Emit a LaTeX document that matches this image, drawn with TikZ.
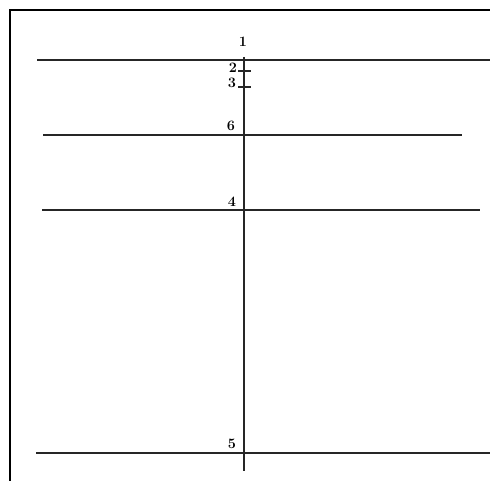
\documentclass[tikz,border=0pt]{standalone}
\begin{document}
\begin{tikzpicture}[x=1pt,y=-1pt,
  frame/.style={line width=2.6pt,black},
  hline/.style={line width=2.2pt,black!85},
  vline/.style={line width=2.2pt,black!85},
  tick/.style={line width=1.5pt,black!85},
  lab/.style={font=\Large\bfseries,inner sep=0pt}]
\useasboundingbox (0,0) rectangle (490,481);
\fill[white] (0,0) rectangle (490,481);
% frame
\draw[frame] (10,482) -- (10,10) -- (491,10);
% horizontal lines
\coordinate (a1) at (37,60);  \coordinate (b1) at (490,60);
\coordinate (a6) at (43,135); \coordinate (b6) at (462,135);
\coordinate (a4) at (42,210); \coordinate (b4) at (480,210);
\coordinate (a5) at (36,453); \coordinate (b5) at (490,453);
\draw[hline] (a1) -- (b1);
\draw[hline] (a6) -- (b6);
\draw[hline] (a4) -- (b4);
\draw[hline] (a5) -- (b5);
% vertical axis
\coordinate (top) at (244,57);
\coordinate (bot) at (244,471);
\draw[vline] (top) -- (bot);
% ticks
\coordinate (t2a) at (238,71); \coordinate (t2b) at (251,71);
\coordinate (t3a) at (238,87); \coordinate (t3b) at (251,87);
\draw[tick] (t2a) -- (t2b);
\draw[tick] (t3a) -- (t3b);
% labels
\node[lab] (l1) at (243,42) {1};
\node[lab] (l2) at (233,68) {2};
\node[lab] (l3) at (232,83) {3};
\node[lab] (l6) at (231,126) {6};
\node[lab] (l4) at (232,202) {4};
\node[lab] (l5) at (232,444) {5};
\end{tikzpicture}
\end{document}
